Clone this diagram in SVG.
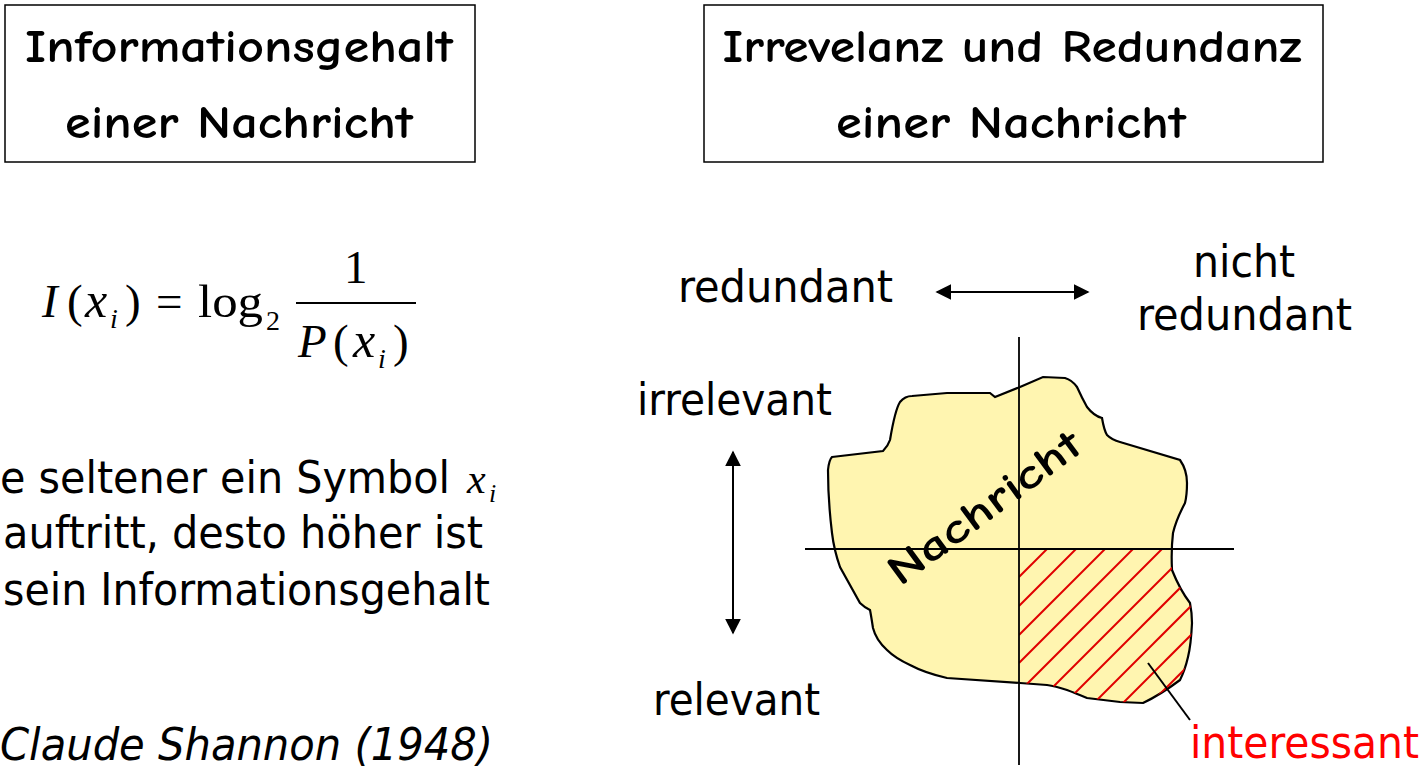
<svg xmlns="http://www.w3.org/2000/svg" width="1424" height="774" viewBox="0 0 1424 774">
<style>
.box{fill:#fff;stroke:#000;stroke-width:1.5}
.title{font-family:"Comic Sans MS","Comic Neue","DejaVu Sans",sans-serif;font-size:46px;font-weight:bold;fill:#000}
.body{font-family:Tahoma,"DejaVu Sans Condensed","DejaVu Sans",sans-serif;font-size:44px;fill:#000}
.math{font-family:"Times New Roman","Liberation Serif",serif;font-size:47px;fill:#000}
.mi{font-style:italic}
.sub{font-size:28px}
.ax{stroke:#000;stroke-width:1.8;fill:none}
.hatch{stroke:#e00000;stroke-width:2}
</style>
<defs>
<marker id="ah2" viewBox="0 0 10 10" refX="9" refY="5" markerWidth="16" markerHeight="16" markerUnits="userSpaceOnUse" orient="auto-start-reverse">
<path d="M0,0 L10,5 L0,10 z" fill="#000"/>
</marker>
<path id="blob" d="M832,457 L883,451 Q888,446 890,440 Q895,410 900,402 Q905,396 912,396 L947,393 L990,393 L995,397 L1020,387 L1043,377 L1065,378 Q1072,380 1077,387 Q1082,398 1087,407 Q1094,416 1102,418 Q1104,430 1107,435 Q1112,440 1120,442 L1180,460 Q1187,470 1187,483 Q1187,495 1185,503 Q1176,520 1173,533 Q1171,550 1172,570 Q1180,590 1190,603 Q1192,613 1192,623 Q1191,645 1188,657 Q1185,670 1180,680 Q1160,695 1143,703 L1120,702 L1087,698 Q1075,693 1067,690 Q1055,686 1047,685 L1020,683 L947,678 Q925,673 910,665 Q895,658 887,650 Q876,640 873,628 Q871,615 870,610 Q864,607 860,603 L840,567 Q834,550 832,533 Q828,500 828,470 Q829,460 832,457 Z"/>
<clipPath id="q4"><use href="#blob"/></clipPath>
</defs>

<g id="box-info">
<rect class="box" x="5" y="5" width="470" height="157"/>
<text class="title" x="239" y="62" text-anchor="middle" textLength="428" lengthAdjust="spacingAndGlyphs">Informationsgehalt</text>
<text class="title" x="239" y="138" text-anchor="middle" textLength="348" lengthAdjust="spacingAndGlyphs">einer Nachricht</text>
</g>

<g id="box-irr">
<rect class="box" x="704" y="5" width="619" height="157"/>
<text class="title" x="1012" y="62" text-anchor="middle" textLength="579" lengthAdjust="spacingAndGlyphs">Irrevelanz und Redundanz</text>
<text class="title" x="1011" y="138" text-anchor="middle" textLength="350" lengthAdjust="spacingAndGlyphs">einer Nachricht</text>
</g>

<g id="formula">
<text class="math mi" x="42" y="317">I</text>
<text class="math" x="67" y="317">(</text>
<text class="math mi" x="85" y="317" style="font-size:50px">x</text>
<text class="math mi sub" x="110" y="328">i</text>
<text class="math" x="125" y="317">)</text>
<text class="math" x="156" y="317">=</text>
<text class="math" x="198" y="317" textLength="65" lengthAdjust="spacingAndGlyphs">log</text>
<text class="math sub" x="266" y="330">2</text>
<line x1="296" y1="303" x2="416" y2="303" stroke="#000" stroke-width="1.8"/>
<text class="math" x="344" y="283">1</text>
<text class="math mi" x="298" y="357">P</text>
<text class="math" x="333" y="357">(</text>
<text class="math mi" x="353" y="357" style="font-size:50px">x</text>
<text class="math mi sub" x="378" y="368">i</text>
<text class="math" x="393" y="357">)</text>
</g>

<g id="desc">
<text class="body" x="0" y="493" textLength="450" lengthAdjust="spacingAndGlyphs">e seltener ein Symbol</text>
<text class="math mi" x="467" y="493" style="font-size:42px">x</text>
<text class="math mi" x="489" y="502" style="font-size:26px">i</text>
<text class="body" x="3" y="548" textLength="480" lengthAdjust="spacingAndGlyphs">auftritt, desto höher ist</text>
<text class="body" x="3" y="605" textLength="487" lengthAdjust="spacingAndGlyphs">sein Informationsgehalt</text>
<text class="body" x="0" y="760" font-style="italic" textLength="493" lengthAdjust="spacingAndGlyphs">Claude Shannon (1948)</text>
</g>

<g id="labels">
<text class="body" x="678" y="302" textLength="215" lengthAdjust="spacingAndGlyphs">redundant</text>
<text class="body" x="1193" y="277" textLength="102" lengthAdjust="spacingAndGlyphs">nicht</text>
<text class="body" x="1137" y="330" textLength="215" lengthAdjust="spacingAndGlyphs">redundant</text>
<text class="body" x="637" y="415" textLength="195" lengthAdjust="spacingAndGlyphs">irrelevant</text>
<text class="body" x="653" y="715" textLength="167" lengthAdjust="spacingAndGlyphs">relevant</text>
<text class="body" x="1190" y="758" style="fill:#ff0000" textLength="229" lengthAdjust="spacingAndGlyphs">interessant</text>
</g>

<g id="nachricht">
<use href="#blob" fill="#fff5b0" stroke="#000" stroke-width="2.2"/>
<g clip-path="url(#q4)">
<svg x="1019" y="549" width="250" height="250" viewBox="1019 549 250 250" overflow="hidden">
<g class="hatch">
<line x1="1019" y1="577" x2="1047" y2="549"/>
<line x1="1019" y1="606" x2="1076" y2="549"/>
<line x1="1019" y1="635" x2="1105" y2="549"/>
<line x1="1019" y1="663" x2="1133" y2="549"/>
<line x1="1019" y1="692" x2="1162" y2="549"/>
<line x1="1019" y1="721" x2="1191" y2="549"/>
<line x1="1019" y1="749" x2="1219" y2="549"/>
<line x1="1019" y1="778" x2="1248" y2="549"/>
<line x1="1019" y1="807" x2="1277" y2="549"/>
<line x1="1019" y1="835" x2="1305" y2="549"/>
<line x1="1019" y1="864" x2="1334" y2="549"/>
</g>
</svg>
</g>
<text class="title" x="0" y="0" transform="translate(900,587) rotate(-36.5)" style="font-size:42px" textLength="230" lengthAdjust="spacingAndGlyphs">Nachricht</text>
</g>

<g id="connectors">
<line class="ax" x1="1019" y1="337" x2="1019" y2="765"/>
<line class="ax" x1="805" y1="549" x2="1234" y2="549"/>
<line x1="937" y1="292" x2="1088" y2="292" stroke="#000" stroke-width="2" marker-start="url(#ah2)" marker-end="url(#ah2)"/>
<line x1="733" y1="452" x2="733" y2="633" stroke="#000" stroke-width="2" marker-start="url(#ah2)" marker-end="url(#ah2)"/>
<line x1="1148" y1="663" x2="1190" y2="720" stroke="#000" stroke-width="2"/>
</g>
</svg>
